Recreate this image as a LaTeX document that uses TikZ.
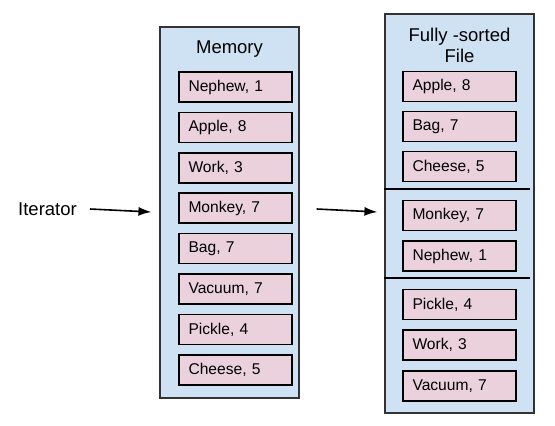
\documentclass[tikz,border=0pt]{standalone}
\usepackage{fontspec}
\setmainfont{Liberation Sans}
\usetikzlibrary{arrows.meta}
\definecolor{boxblue}{HTML}{CFE2F3}
\definecolor{itempink}{HTML}{EAD1DC}
\definecolor{edge}{HTML}{333333}
\tikzset{
  container/.style={draw=edge, fill=boxblue, line width=1.2pt, inner sep=0pt},
  item/.style={draw=black, fill=itempink, line width=1.5pt, minimum height=30pt,
    text width=94pt, inner xsep=9.5pt, inner ysep=0pt, align=left,
    font=\fontsize{15.6}{18}\selectfont},
  title/.style={font=\fontsize{18.5}{20.5}\selectfont, align=center, inner sep=0pt},
  flow/.style={line width=1.6pt, -{Latex[length=13pt,width=9pt]}},
  divider/.style={line width=1.5pt, draw=black}
}
\begin{document}
\begin{tikzpicture}[x=1pt,y=-1pt]
\useasboundingbox (0,0) rectangle (555,426);
% containers
\node[container, minimum width=139pt, minimum height=371pt] (mem) at (229.5,212.5) {};
\node[container, minimum width=149pt, minimum height=399pt] (file) at (459.5,213.5) {};
% titles
\node[title] (memt) at (229.5,49) {Memory};
\node[title] (filet) at (459.5,45.5) {Fully -sorted\\File};
% memory items
\node[item] (m1) at (235.5,87.0) {Nephew, 1};
\node[item] (m2) at (235.5,127.4) {Apple, 8};
\node[item] (m3) at (235.5,167.8) {Work, 3};
\node[item] (m4) at (235.5,208.2) {Monkey, 7};
\node[item] (m5) at (235.5,248.6) {Bag, 7};
\node[item] (m6) at (235.5,289.0) {Vacuum, 7};
\node[item] (m7) at (235.5,329.4) {Pickle, 4};
\node[item] (m8) at (235.5,369.8) {Cheese, 5};
% file items
\node[item] (f1) at (459.5,86.5) {Apple, 8};
\node[item] (f2) at (459.5,126.5) {Bag, 7};
\node[item] (f3) at (459.5,166.5) {Cheese, 5};
\node[item] (f4) at (459.5,215.5) {Monkey, 7};
\node[item] (f5) at (459.5,256.0) {Nephew, 1};
\node[item] (f6) at (459.5,304.5) {Pickle, 4};
\node[item] (f7) at (459.5,345.0) {Work, 3};
\node[item] (f8) at (459.5,386.0) {Vacuum, 7};
% dividers
\draw[divider] (file.west |- 0,189) -- (530,189);
\draw[divider] (file.west |- 0,278) -- (530,278);
% iterator
\node[title, anchor=west] (iter) at (18,209) {Iterator};
\draw[flow] ([xshift=13pt]iter.east) -- ([xshift=-8pt,yshift=0.5pt]mem.west);
\draw[flow] ([xshift=17pt,yshift=3.5pt]mem.east) -- ([xshift=-7pt,yshift=1.5pt]file.west);
\end{tikzpicture}
\end{document}
